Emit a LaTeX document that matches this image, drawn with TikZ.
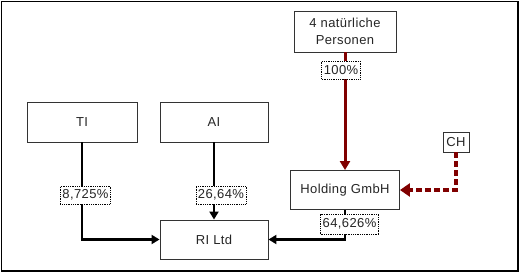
\documentclass[tikz,border=0pt]{standalone}
\usepackage{fontspec}
\setmainfont{Liberation Sans}[LetterSpace=3]
\usetikzlibrary{arrows.meta}
\definecolor{dunkelrot}{RGB}{128,0,0}
\begin{document}
\begin{tikzpicture}[x=1pt, y=-1pt, font=\fontsize{13}{17.5}\selectfont,
  kasten/.style={draw=black!80, line width=0.9pt, fill=white, inner sep=0pt, text=black!85, align=center},
  anteil/.style={draw=black, densely dotted, line width=0.8pt, fill=white, inner xsep=2pt, inner ysep=0pt, minimum height=18pt, text=black!85},
  linie/.style={line width=2.8pt, -{Triangle[length=8pt,width=9pt]}},
  rotlinie/.style={dunkelrot, line width=3pt, -{Triangle[length=9pt,width=10pt]}},
  punktlinie/.style={dunkelrot, line width=4pt, dash pattern=on 6pt off 3pt, -{Triangle[length=10pt,width=13pt]}}]
  \useasboundingbox (0,0) rectangle (519,273);
  \draw[line width=1.4pt] (1.5,1.5) rectangle (518,271);
  % die Gesellschafter
  \node[kasten, minimum width=102pt, minimum height=41pt] (personen) at (345,31.5) {4 natürliche\\Personen};
  \node[kasten, minimum width=110pt, minimum height=40pt] (ti) at (82,122) {TI};
  \node[kasten, minimum width=108pt, minimum height=40pt] (ai) at (214,122) {AI};
  \node[kasten, minimum width=26pt, minimum height=20pt] (ch) at (456,142) {CH};
  % die Gesellschaften
  \node[kasten, minimum width=109pt, minimum height=39pt] (holding) at (345,190) {Holding GmbH};
  \node[kasten, minimum width=108pt, minimum height=39pt] (ri) at (214,239.5) {RI Ltd};
  % die Beteiligungen
  \draw[rotlinie] (personen) -- (holding);
  \draw[punktlinie] (ch) |- (holding);
  \draw[linie] (ti) |- (ri);
  \draw[linie] (ai) -- (ri);
  \draw[linie] (holding) |- (ri);
  % die Anteile
  \node[anteil] (p100) at (341,70) {100\%};
  \node[anteil] (pti) at (85.5,195) {8,725\%};
  \node[anteil] (pai) at (221,195) {26,64\%};
  \node[anteil, minimum height=20pt] (pholding) at (349.5,224) {64,626\%};
\end{tikzpicture}
\end{document}
